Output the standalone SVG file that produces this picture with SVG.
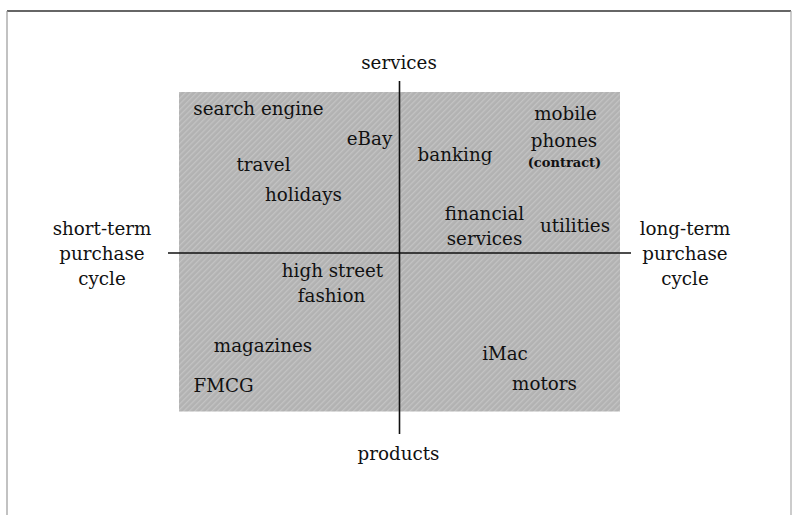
<svg xmlns="http://www.w3.org/2000/svg" width="796" height="515" viewBox="0 0 796 515">
<defs>
<pattern id="hatch" width="4" height="4" patternUnits="userSpaceOnUse" patternTransform="rotate(45)">
<rect width="4" height="4" fill="#b2b2b2"/>
<rect width="1.3" height="4" fill="#c3c3c3"/>
</pattern>
<style>
text{font-family:"DejaVu Serif","Liberation Serif",serif;font-size:18.3px;fill:#111;text-anchor:middle}
.small{font-size:13px;font-weight:bold}
.axis{stroke:#111;stroke-width:1.6;fill:none}
</style>
</defs>
<rect width="796" height="515" fill="#fff"/>
<g id="frame">
<line x1="7" y1="11" x2="791" y2="11" stroke="#333" stroke-width="1.3"/>
<line x1="7" y1="11" x2="7" y2="515" stroke="#999" stroke-width="1.2"/>
<line x1="791" y1="11" x2="791" y2="515" stroke="#aaa" stroke-width="1.2"/>
</g>
<g id="field">
<rect x="179" y="92" width="441" height="319.5" fill="url(#hatch)"/>
</g>
<g id="connectors">
<line class="axis" x1="399.5" y1="81" x2="399.5" y2="434"/>
<line class="axis" x1="168" y1="253" x2="631" y2="253"/>
</g>
<g id="axis-services"><text x="399" y="69">services</text></g>
<g id="axis-products"><text x="398.5" y="460">products</text></g>
<g id="axis-short"><text x="102" y="235">short-term</text><text x="102" y="260">purchase</text><text x="102" y="285">cycle</text></g>
<g id="axis-long"><text x="685" y="235">long-term</text><text x="685" y="260">purchase</text><text x="685" y="285">cycle</text></g>
<g id="n-search"><text x="258.5" y="114.5">search engine</text></g>
<g id="n-ebay"><text x="369.5" y="144.5">eBay</text></g>
<g id="n-travel"><text x="263.5" y="171">travel</text></g>
<g id="n-holidays"><text x="303.5" y="200.5">holidays</text></g>
<g id="n-banking"><text x="455" y="160.5">banking</text></g>
<g id="n-mobile"><text x="565.5" y="120">mobile</text><text x="564" y="147">phones</text><text class="small" x="564.5" y="167">(contract)</text></g>
<g id="n-financial"><text x="484.5" y="220">financial</text><text x="484.5" y="245">services</text></g>
<g id="n-utilities"><text x="575" y="231.5">utilities</text></g>
<g id="n-fashion"><text x="332.5" y="277">high street</text><text x="331.5" y="302">fashion</text></g>
<g id="n-magazines"><text x="263" y="352">magazines</text></g>
<g id="n-fmcg"><text x="223.5" y="392">FMCG</text></g>
<g id="n-imac"><text x="505" y="360">iMac</text></g>
<g id="n-motors"><text x="544.5" y="390">motors</text></g>
</svg>
